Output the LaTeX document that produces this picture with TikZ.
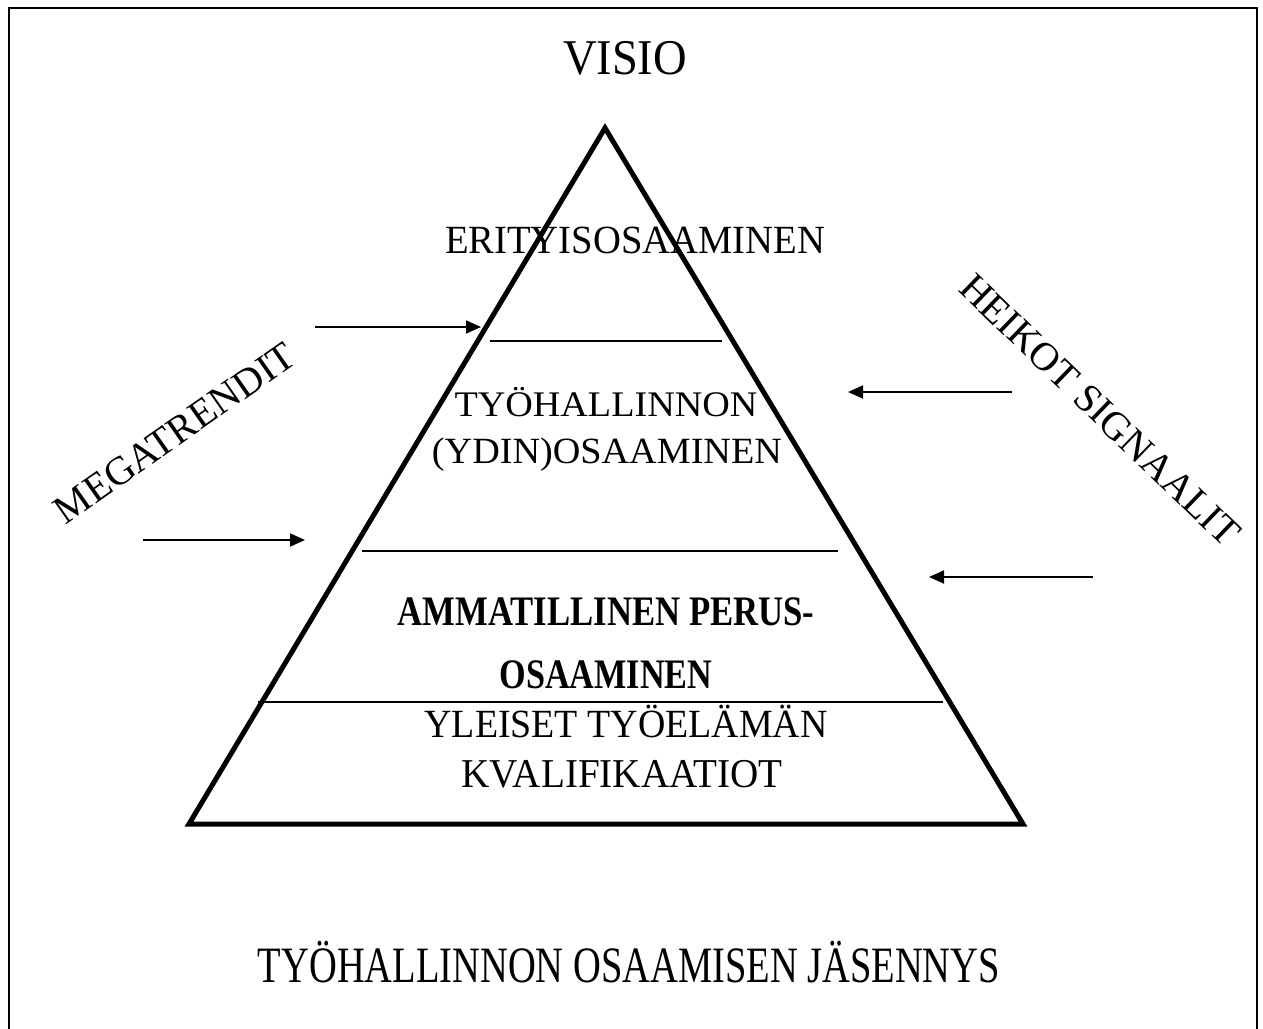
\documentclass[tikz,border=0pt]{standalone}
\usepackage{fontspec}
\usepackage{graphicx}
\setmainfont{Liberation Serif}
\usetikzlibrary{arrows.meta}
\newcommand{\fitw}[2]{\resizebox{#1pt}{\height}{#2}}
\tikzset{
  lbl/.style={inner sep=0pt, anchor=base},
  sz/.style={font=\fontsize{#1}{#1}\selectfont},
  bsz/.style={font=\fontsize{#1}{#1}\selectfont\bfseries},
  frameline/.style={line width=2pt},
  pyr/.style={line width=5pt, line join=miter},
  tier/.style={line width=1.6pt},
  inarrow/.style={line width=1.8pt, -{Triangle[length=15pt, width=13pt]}}
}
\begin{document}
\begin{tikzpicture}[x=1pt, y=-1pt]
\useasboundingbox (0,0) rectangle (1263,1028);
% frame
\draw[frameline] (9,1030) -- (9,8) -- (1257,8) -- (1257,1030);
% pyramid
\coordinate (apex) at (605,128);
\coordinate (bl) at (189,824);
\coordinate (br) at (1023,824);
\draw[pyr] (apex) -- (bl) -- (br) -- cycle;
% tier lines
\coordinate (t1a) at (490,341); \coordinate (t1b) at (722,341);
\coordinate (t2a) at (362,551); \coordinate (t2b) at (838,551);
\coordinate (t3a) at (258,702); \coordinate (t3b) at (943,702);
\draw[tier] (t1a) -- (t1b);
\draw[tier] (t2a) -- (t2b);
\draw[tier] (t3a) -- (t3b);
% arrows
\coordinate (a1s) at (315,327); \coordinate (a1e) at (481,327);
\coordinate (a2s) at (143,540); \coordinate (a2e) at (305,540);
\coordinate (a3s) at (1012,392); \coordinate (a3e) at (848,392);
\coordinate (a4s) at (1093,577); \coordinate (a4e) at (929,577);
\draw[inarrow] (a1s) -- (a1e);
\draw[inarrow] (a2s) -- (a2e);
\draw[inarrow] (a3s) -- (a3e);
\draw[inarrow] (a4s) -- (a4e);
% texts
\node[lbl, sz=50] (visio) at (625,74) {\fitw{124}{VISIO}};
\node[lbl, sz=40] (erit) at (635,253) {\fitw{380}{ERITYISOSAAMINEN}};
\node[lbl, sz=36] (tyoh) at (606,416) {\fitw{303}{TYÖHALLINNON}};
\node[lbl, sz=37] (ydin) at (607,463) {\fitw{350}{(YDIN)OSAAMINEN}};
\node[lbl, bsz=42] (amm) at (606,625) {\fitw{417}{AMMATILLINEN PERUS-}};
\node[lbl, bsz=42] (osa) at (606,688) {\fitw{213}{OSAAMINEN}};
\node[lbl, sz=40] (yle) at (626,737) {\fitw{403}{YLEISET TYÖELÄMÄN}};
\node[lbl, sz=41] (kva) at (622,787) {\fitw{321}{KVALIFIKAATIOT}};
\node[lbl, sz=51] (title) at (629,982) {\fitw{742}{TYÖHALLINNON OSAAMISEN JÄSENNYS}};
\node[inner sep=0pt, sz=40, rotate=35] (mega) at (175,433) {MEGATRENDIT};
\node[inner sep=0pt, sz=40, rotate=-44] (heik) at (1100,410) {HEIKOT SIGNAALIT};
\end{tikzpicture}
\end{document}
